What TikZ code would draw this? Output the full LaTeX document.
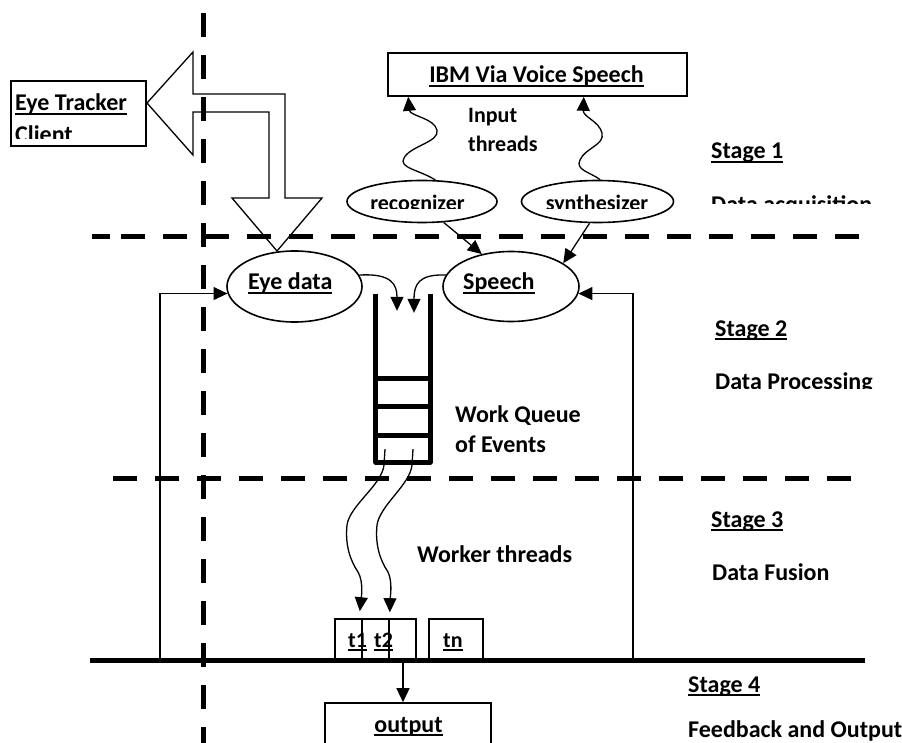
\documentclass[tikz,border=0pt]{standalone}
\usepackage{fontspec}
\setmainfont{Carlito}
\usetikzlibrary{arrows.meta,shapes.geometric,calc}
\newcommand{\myul}[1]{\setbox0=\hbox{#1}\rlap{\rule[-0.17em]{\wd0}{0.08em}}\box0}
\begin{document}
\begin{tikzpicture}[x=1pt,y=-1pt,
  lbl/.style={font=\fontsize{24}{28}\selectfont\bfseries, inner sep=0pt, anchor=base west},
  slbl/.style={lbl, font=\fontsize{22}{26}\selectfont\bfseries},
  arr/.style={line width=1.3pt, -{Triangle[length=14pt,width=13pt]}},
  bx/.style={draw, line width=1.6pt, inner sep=0pt},
  ell/.style={draw, ellipse, line width=1.6pt, inner sep=0pt},
  thickdash/.style={line width=5pt, dash pattern=on 24pt off 18pt},
  thick5/.style={line width=5pt}
]
\useasboundingbox (0,0) rectangle (902,743);

% block arrow from eye tracker client to eye data
\draw[line width=1.3pt, line join=miter] (147,103) -- (193,52) -- (193,94) -- (285,94) -- (285,198)
  -- (322,198) -- (277,251) -- (232,198) -- (269,198) -- (269,112) -- (193,112) -- (193,155) -- cycle;

% Eye tracker client
\node[bx, minimum width=135pt, minimum height=65pt] (client) at (78.5,113.5) {};
\node[lbl] (clientt1) at (15,111) {\myul{Eye Tracker}};
\begin{scope}
  \clip (11,120) rectangle (146,139);
  \node[lbl] (clientt2) at (15,143) {Client};
\end{scope}

% IBM box
\node[bx, minimum width=299pt, minimum height=43pt] (ibm) at (537.5,74.5) {};
\node[lbl, anchor=base] (ibmt) at (536.5,83) {\myul{IBM Via Voice Speech}};
\node[slbl] (inp1) at (468,123) {Input};
\node[slbl] (inp2) at (468,152) {threads};

% recognizer / synthesizer
\node[ell, minimum width=150pt, minimum height=42pt] (rec) at (422,201.5) {};
\node[ell, minimum width=152pt, minimum height=42pt] (syn) at (597.5,201.5) {};
\begin{scope}
  \clip (340,185) rectangle (680,209);
  \node[slbl, anchor=base] (rect) at (417.5,211) {recognizer};
  \node[slbl, anchor=base] (synt) at (597,211) {synthesizer};
\end{scope}

% stage labels
\node[lbl] (s1) at (711,159) {\myul{Stage 1}};
\begin{scope}
  \clip (700,190) rectangle (902,204);
  \node[lbl] (s1d) at (711,213) {Data acquisition};
\end{scope}
\node[lbl] (s2) at (715,336) {\myul{Stage 2}};
\begin{scope}
  \clip (700,365) rectangle (902,388);
  \node[lbl] (s2d) at (715,389) {Data Processing};
\end{scope}
\node[lbl] (s3) at (711,527) {\myul{Stage 3}};
\node[lbl] (s3d) at (712,580) {Data Fusion};
\node[lbl] (s4) at (688,692) {\myul{Stage 4}};
\node[lbl] (s4d) at (688,737) {Feedback and Output};

% Eye data / Speech
\node[ell, minimum width=135pt, minimum height=71pt] (eye) at (294.5,286.5) {};
\node[ell, minimum width=136pt, minimum height=70pt] (sp) at (511,286.5) {};
\node[lbl] (eyet) at (248,290) {\myul{Eye data}};
\node[lbl] (spt) at (463,290) {\myul{Speech}};

% queue
\node[minimum width=54pt, minimum height=168pt, inner sep=0pt] (queue) at (403,378) {};
\draw[thick5, line join=round] (queue.north west) -- (queue.south west) -- (queue.south east) -- (queue.north east);
\draw[thick5] (queue.north west) ++(0,85) -- ++(54,0);
\draw[thick5] (queue.north west) ++(0,112.5) -- ++(54,0);
\draw[thick5] (queue.north west) ++(0,141.5) -- ++(54,0);
\node[lbl] (wq1) at (455,422) {Work Queue};
\node[lbl] (wq2) at (455,452) {of Events};
\node[lbl] (wt) at (417,562) {Worker threads};

% thread boxes
\node[bx, minimum width=27pt, minimum height=41pt] (tb1) at (348.5,639.5) {};
\node[bx, minimum width=27pt, minimum height=41pt] (tb2) at (375.5,639.5) {};
\node[bx, minimum width=27pt, minimum height=41pt] (tb3) at (402.5,639.5) {};
\node[bx, minimum width=54pt, minimum height=41pt] (tbn) at (456,639.5) {};
\node[slbl] (t1) at (348,647) {\myul{t1}};
\node[slbl] (t2) at (374,647) {\myul{t2}};
\node[slbl] (tn) at (443,647) {\myul{tn}};

% output
\node[bx, minimum width=166pt, minimum height=70pt] (out) at (408,738) {};
\node[lbl, anchor=base] (outt) at (408.5,732) {\myul{output}};

% dashed separators
\draw[thickdash] (203,13) -- (203,743);
\draw[thick5] (92,237) -- (110,237);
\draw[thickdash] (121,237) -- (859,237);
\draw[thickdash] (113,478) -- (851,478);
\draw[thick5] (90,660) -- (865,660);

% connectors
\draw[arr] (rec.58) .. controls (420,170) and (398,168) .. (404,158)
  .. controls (410,146) and (440,142) .. (437,130)
  .. controls (434,118) and (410,116) .. ($(ibm.south west)+(21,0)$);
\draw[arr] (syn.83) .. controls (590,172) and (575,170) .. (580,160)
  .. controls (585,148) and (605,145) .. (602,133)
  .. controls (599,121) and (583,117) .. ($(ibm.south east)+(-104,0)$);
\draw[arr] (rec.-44) -- (sp.132);
\draw[arr] (syn.-110) -- (sp.24);
\draw[arr] (eye.10) .. controls (392,273) and (397,285) .. ($(queue.north)+(-6,17)$);
\draw[arr] (sp.170) .. controls (418,274) and (414,285) .. ($(queue.north)+(11,19)$);

\coordinate (fl) at (160,660);
\coordinate (fr) at (633,660);
\draw[arr] (fl) |- (eye.186);
\draw[arr] (fr) |- (sp.-6);

\draw[arr] ($(queue.south)+(-18,-13)$) -- (384,465) .. controls (382,485) and (350,505) .. (347,525)
  .. controls (345,545) and (350,560) .. (358,572)
  .. controls (364,582) and (361,600) .. ($(tb1.north east)+(-3,-7)$);
\draw[arr] ($(queue.south)+(10,-13)$) -- (412,465) .. controls (410,485) and (380,505) .. (377,525)
  .. controls (375,545) and (380,560) .. (388,572)
  .. controls (393,582) and (390,600) .. ($(tb2.north east)+(0,-6)$);

\coordinate (os) at (403,660);
\draw[arr] (os) -- (os |- out.north);
\end{tikzpicture}
\end{document}
